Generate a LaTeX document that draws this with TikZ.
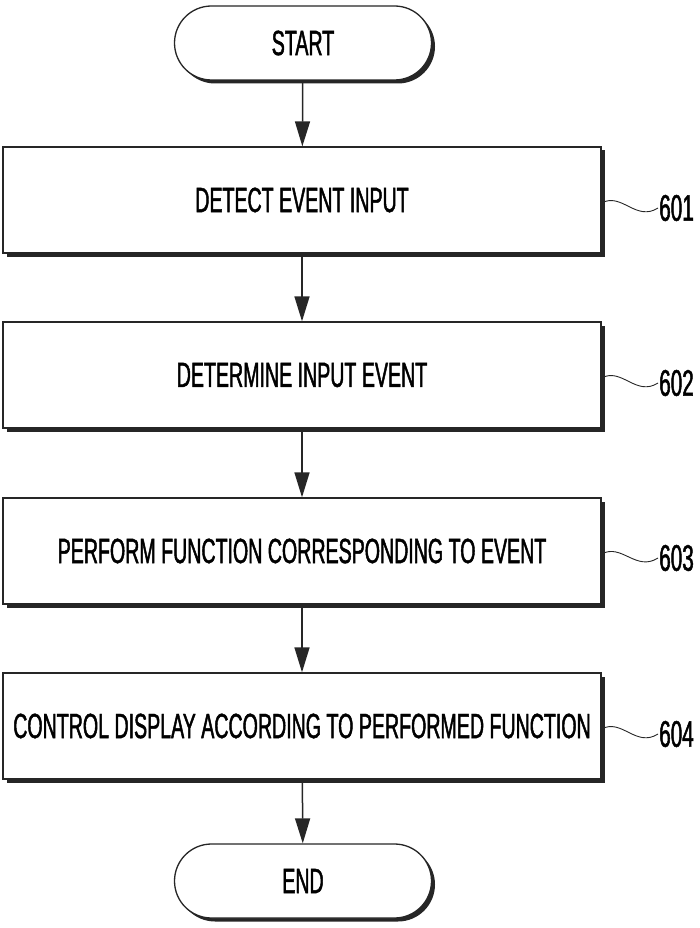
\documentclass[tikz,border=0pt]{standalone}
\usepackage{fontspec}
\setmainfont[FakeStretch=0.56,FakeBold=1.3]{Liberation Sans}
\usetikzlibrary{arrows.meta,shapes.misc,shadows}

\begin{document}
\begin{tikzpicture}[x=1pt, y=-1pt,
        font=\fontsize{35}{35}\selectfont,
        stepbox/.style={rectangle, draw=black!85, line width=1.3pt, fill=white,
            minimum width=598pt, minimum height=106pt, inner sep=0pt,
            drop shadow={shadow xshift=3.5pt, shadow yshift=-3.5pt, fill=black!85, opacity=1}},
        termbox/.style={rounded rectangle, draw=black!85, line width=1.3pt, fill=white,
            minimum width=257pt, minimum height=74pt, inner sep=0pt,
            drop shadow={shadow xshift=3.5pt, shadow yshift=-3.5pt, fill=black!85, opacity=1}},
        reflabel/.style={anchor=west, inner sep=1pt, font=\fontsize{37}{37}\selectfont},
        flow/.style={-{Triangle[width=15pt,length=25pt]}, line width=1.5pt, black!85},
        squiggle/.style={line width=0.9pt, black!85}]
        \useasboundingbox (0,0) rectangle (700,928);

        \node[termbox] (start) at (303,43) {START};
        \node[stepbox] (detect) at (302,200) {DETECT EVENT INPUT};
        \node[stepbox] (determine) at (302,375) {DETERMINE INPUT EVENT};
        \node[stepbox] (perform) at (302,551) {PERFORM FUNCTION CORRESPONDING TO EVENT};
        \node[stepbox] (control) at (302,726) {CONTROL DISPLAY ACCORDING TO PERFORMED FUNCTION};
        \node[termbox] (end) at (303,881) {END};

        \draw[flow] (start) -- (detect);
        \draw[flow] (detect) -- (determine);
        \draw[flow] (determine) -- (perform);
        \draw[flow] (perform) -- (control);
        \draw[flow] (control) -- (end);

        % reference numerals
        \node[reflabel] (n601) at (658,208) {601};
        \node[reflabel] (n602) at (658,383) {602};
        \node[reflabel] (n603) at (658,558) {603};
        \node[reflabel] (n604) at (658,734) {604};
        \draw[squiggle] ([yshift=-3pt]detect.east) .. controls +(20,-11) and +(-22,14) .. (n601.west);
        \draw[squiggle] ([yshift=-3pt]determine.east) .. controls +(20,-11) and +(-22,14) .. (n602.west);
        \draw[squiggle] ([yshift=-3pt]perform.east) .. controls +(20,-11) and +(-22,14) .. (n603.west);
        \draw[squiggle] ([yshift=-3pt]control.east) .. controls +(20,-11) and +(-22,14) .. (n604.west);
    \end{tikzpicture}
\end{document}
